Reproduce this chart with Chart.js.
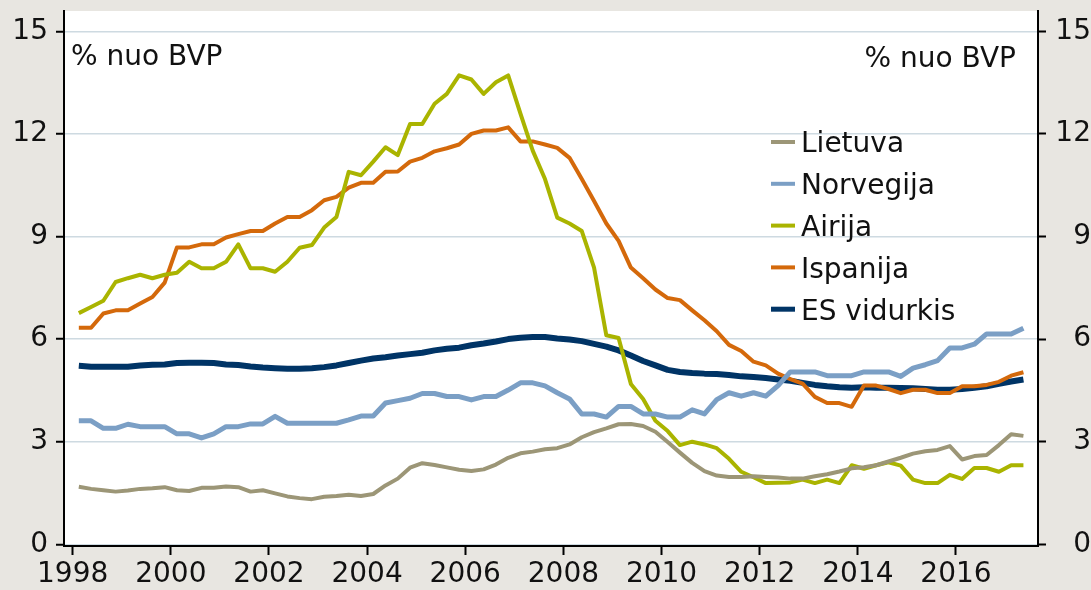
<!DOCTYPE html>
<html><head><meta charset="utf-8">
<script src="https://cdn.jsdelivr.net/npm/chart.js@4.4.1/dist/chart.umd.min.js"></script>
<style>html,body{margin:0;padding:0;background:#e8e6e1;}canvas{display:block}</style>
</head><body>
<canvas id="c" width="1091" height="590"></canvas>
<script>
const quarters = [
"1998Q1","1998Q2","1998Q3","1998Q4","1999Q1","1999Q2","1999Q3","1999Q4",
"2000Q1","2000Q2","2000Q3","2000Q4","2001Q1","2001Q2","2001Q3","2001Q4",
"2002Q1","2002Q2","2002Q3","2002Q4","2003Q1","2003Q2","2003Q3","2003Q4",
"2004Q1","2004Q2","2004Q3","2004Q4","2005Q1","2005Q2","2005Q3","2005Q4",
"2006Q1","2006Q2","2006Q3","2006Q4","2007Q1","2007Q2","2007Q3","2007Q4",
"2008Q1","2008Q2","2008Q3","2008Q4","2009Q1","2009Q2","2009Q3","2009Q4",
"2010Q1","2010Q2","2010Q3","2010Q4","2011Q1","2011Q2","2011Q3","2011Q4",
"2012Q1","2012Q2","2012Q3","2012Q4","2013Q1","2013Q2","2013Q3","2013Q4",
"2014Q1","2014Q2","2014Q3","2014Q4","2015Q1","2015Q2","2015Q3","2015Q4",
"2016Q1","2016Q2","2016Q3","2016Q4","2017Q1","2017Q2"];

const lietuva = [1.68,1.62,1.58,1.54,1.57,1.62,1.64,1.67,1.58,1.56,1.65,1.65,1.69,1.67,1.54,1.58,
1.49,1.40,1.35,1.32,1.39,1.41,1.45,1.41,1.47,1.72,1.92,2.24,2.37,2.32,2.25,2.18,
2.14,2.19,2.33,2.53,2.66,2.71,2.78,2.81,2.92,3.13,3.28,3.39,3.51,3.52,3.46,3.29,
2.99,2.68,2.38,2.14,2.01,1.97,1.97,1.99,1.97,1.95,1.92,1.92,1.99,2.05,2.13,2.22,
2.25,2.31,2.42,2.53,2.65,2.72,2.76,2.87,2.48,2.58,2.61,2.90,3.22,3.17];

const norvegija = [3.61,3.61,3.39,3.39,3.51,3.44,3.44,3.44,3.23,3.23,3.11,3.23,3.44,3.44,3.52,3.52,
3.74,3.54,3.54,3.54,3.54,3.54,3.64,3.75,3.75,4.13,4.20,4.27,4.41,4.41,4.32,4.32,
4.22,4.32,4.32,4.51,4.72,4.72,4.63,4.43,4.25,3.81,3.81,3.72,4.03,4.03,3.81,3.81,
3.72,3.72,3.93,3.81,4.23,4.43,4.33,4.43,4.33,4.64,5.04,5.04,5.04,4.93,4.93,4.93,
5.04,5.04,5.04,4.91,5.15,5.25,5.37,5.74,5.74,5.85,6.15,6.15,6.15,6.32];

const airija = [6.76,6.94,7.12,7.67,7.78,7.88,7.78,7.88,7.94,8.26,8.07,8.07,8.26,8.77,8.07,8.07,
7.97,8.26,8.67,8.75,9.26,9.57,10.89,10.79,11.19,11.61,11.38,12.29,12.29,12.88,13.17,13.71,
13.59,13.17,13.51,13.71,12.59,11.51,10.68,9.55,9.38,9.16,8.09,6.11,6.03,4.69,4.25,3.61,
3.31,2.90,3.00,2.92,2.81,2.50,2.12,1.96,1.79,1.80,1.81,1.89,1.79,1.89,1.79,2.31,
2.21,2.31,2.40,2.30,1.89,1.79,1.79,2.03,1.91,2.23,2.23,2.12,2.31,2.31];

const ispanija = [6.33,6.33,6.75,6.84,6.84,7.04,7.23,7.65,8.68,8.68,8.77,8.77,8.97,9.07,9.16,9.16,
9.38,9.57,9.57,9.77,10.06,10.16,10.43,10.57,10.57,10.89,10.90,11.19,11.30,11.49,11.58,11.69,
12.00,12.10,12.10,12.19,11.78,11.78,11.69,11.59,11.30,10.68,10.04,9.38,8.87,8.09,7.78,7.45,
7.20,7.14,6.84,6.55,6.23,5.83,5.65,5.34,5.23,4.99,4.83,4.70,4.31,4.13,4.13,4.02,
4.64,4.64,4.54,4.42,4.52,4.52,4.42,4.42,4.62,4.62,4.66,4.75,4.93,5.03];

const esVidurkis = [5.22,5.19,5.19,5.19,5.19,5.23,5.25,5.26,5.30,5.31,5.31,5.30,5.26,5.24,5.20,5.17,
5.15,5.13,5.13,5.15,5.18,5.23,5.30,5.37,5.43,5.47,5.52,5.56,5.60,5.67,5.72,5.75,
5.82,5.87,5.93,6.00,6.04,6.06,6.06,6.02,5.99,5.94,5.86,5.78,5.67,5.52,5.36,5.23,
5.10,5.04,5.01,4.99,4.98,4.95,4.91,4.89,4.86,4.82,4.78,4.72,4.66,4.62,4.59,4.58,
4.59,4.58,4.58,4.57,4.56,4.54,4.52,4.52,4.54,4.58,4.62,4.69,4.76,4.82];

const seriesNames = ["Lietuva","Norvegija","Airija","Ispanija","ES vidurkis"];
const xTickValues = [1998,2000,2002,2004,2006,2008,2010,2012,2014,2016];
const xTickLabels = ["1998","2000","2002","2004","2006","2008","2010","2012","2014","2016"];
const yTickValues = [0,3,6,9,12,15];
const yTickLabels = ["0","3","6","9","12","15"];
const unitLabel = "% nuo BVP";

const FONT = "'DejaVu Sans', Verdana, sans-serif";
Chart.defaults.font.family = FONT;
Chart.defaults.font.size = 28;
Chart.defaults.color = '#111';

function qToX(q){ return parseInt(q.slice(0,4),10) + (parseInt(q.slice(5),10)-1)*0.25 + 0.125; }
function pts(arr){ return quarters.map((q,i)=>({x:qToX(q), y:arr[i]})); }

const styles = [
  {color:'#9c9677', width:4},
  {color:'#7b9fc5', width:5},
  {color:'#aab400', width:4},
  {color:'#d4690b', width:4},
  {color:'#003466', width:6}
];
const seriesData = [lietuva, norvegija, airija, ispanija, esVidurkis];

const datasets = seriesData.map((arr,i)=>({
  label: seriesNames[i], data: pts(arr), borderColor: styles[i].color, backgroundColor: styles[i].color,
  borderWidth: styles[i].width, pointRadius:0, tension:0, borderJoinStyle:'round', borderCapStyle:'butt', yAxisID:'y'
}));

const bgPlugin = {
  id:'bg',
  beforeDraw(chart){
    const {ctx, chartArea:a} = chart;
    ctx.save();
    ctx.fillStyle = '#e8e6e1'; ctx.fillRect(0,0,chart.width,chart.height);
    ctx.fillStyle = '#ffffff'; ctx.fillRect(a.left,a.top,a.right-a.left,a.bottom-a.top);
    ctx.restore();
  },
  afterDraw(chart){
    const {ctx} = chart;
    ctx.save();
    ctx.font = "28px " + FONT;
    ctx.fillStyle = '#111';
    ctx.textBaseline = 'alphabetic';
    ctx.textAlign = 'left';
    ctx.fillText(unitLabel, 71, 64.5);
    ctx.textAlign = 'right';
    ctx.fillText(unitLabel, 1016, 66.5);
    // legend
    ctx.textAlign = 'left';
    chart.data.datasets.forEach((ds,i)=>{
      const yc = 142 + i*41.8;
      ctx.strokeStyle = ds.borderColor;
      ctx.lineWidth = i===4 ? 5 : 4;
      ctx.beginPath(); ctx.moveTo(771, yc); ctx.lineTo(795, yc); ctx.stroke();
      ctx.fillStyle = '#111';
      ctx.fillText(ds.label, 801, yc + 10.3);
    });
    ctx.restore();
  }
};

function zeroPad(s){ s.paddingTop=0; s.paddingBottom=0; s.paddingLeft=0; s.paddingRight=0; }

new Chart(document.getElementById('c'), {
  type:'line',
  data:{datasets},
  plugins:[bgPlugin],
  options:{
    responsive:false, animation:false, devicePixelRatio:1,
    layout:{padding:{top:11,left:0,right:0,bottom:0}},
    plugins:{legend:{display:false}, tooltip:{enabled:false}},
    scales:{
      x:{type:'linear', position:'bottom', min:1997.823, max:2017.672,
        afterBuildTicks(s){ s.ticks = xTickValues.map(v=>({value:v})); },
        afterFit(s){ s.height = 44; zeroPad(s); },
        grid:{drawOnChartArea:false, drawTicks:true, tickLength:9, tickColor:'#000', tickWidth:2},
        border:{display:true, color:'#000', width:2},
        ticks:{padding:3, maxRotation:0, autoSkip:false, color:'#111',
          callback:(v,i)=>xTickLabels[xTickValues.indexOf(v)]}
      },
      y:{type:'linear', position:'left', min:-0.05, max:15.593,
        afterBuildTicks(s){ s.ticks = yTickValues.map(v=>({value:v})); },
        afterFit(s){ s.width = 64; zeroPad(s); },
        grid:{color:'#cedae1', lineWidth:1.5, drawTicks:true, tickLength:8, tickColor:'#000', tickWidth:2},
        border:{display:true, color:'#000', width:2},
        ticks:{padding:8, color:'#111', callback:(v)=>yTickLabels[yTickValues.indexOf(v)]}
      },
      y2:{type:'linear', position:'right', min:-0.05, max:15.593,
        afterBuildTicks(s){ s.ticks = yTickValues.map(v=>({value:v})); },
        afterFit(s){ s.width = 53; zeroPad(s); },
        grid:{drawOnChartArea:false, drawTicks:true, tickLength:8, tickColor:'#000', tickWidth:2},
        border:{display:true, color:'#000', width:2},
        ticks:{padding:7, crossAlign:'far', color:'#111', callback:(v)=>yTickLabels[yTickValues.indexOf(v)]}
      }
    }
  }
});
</script>
</body></html>
